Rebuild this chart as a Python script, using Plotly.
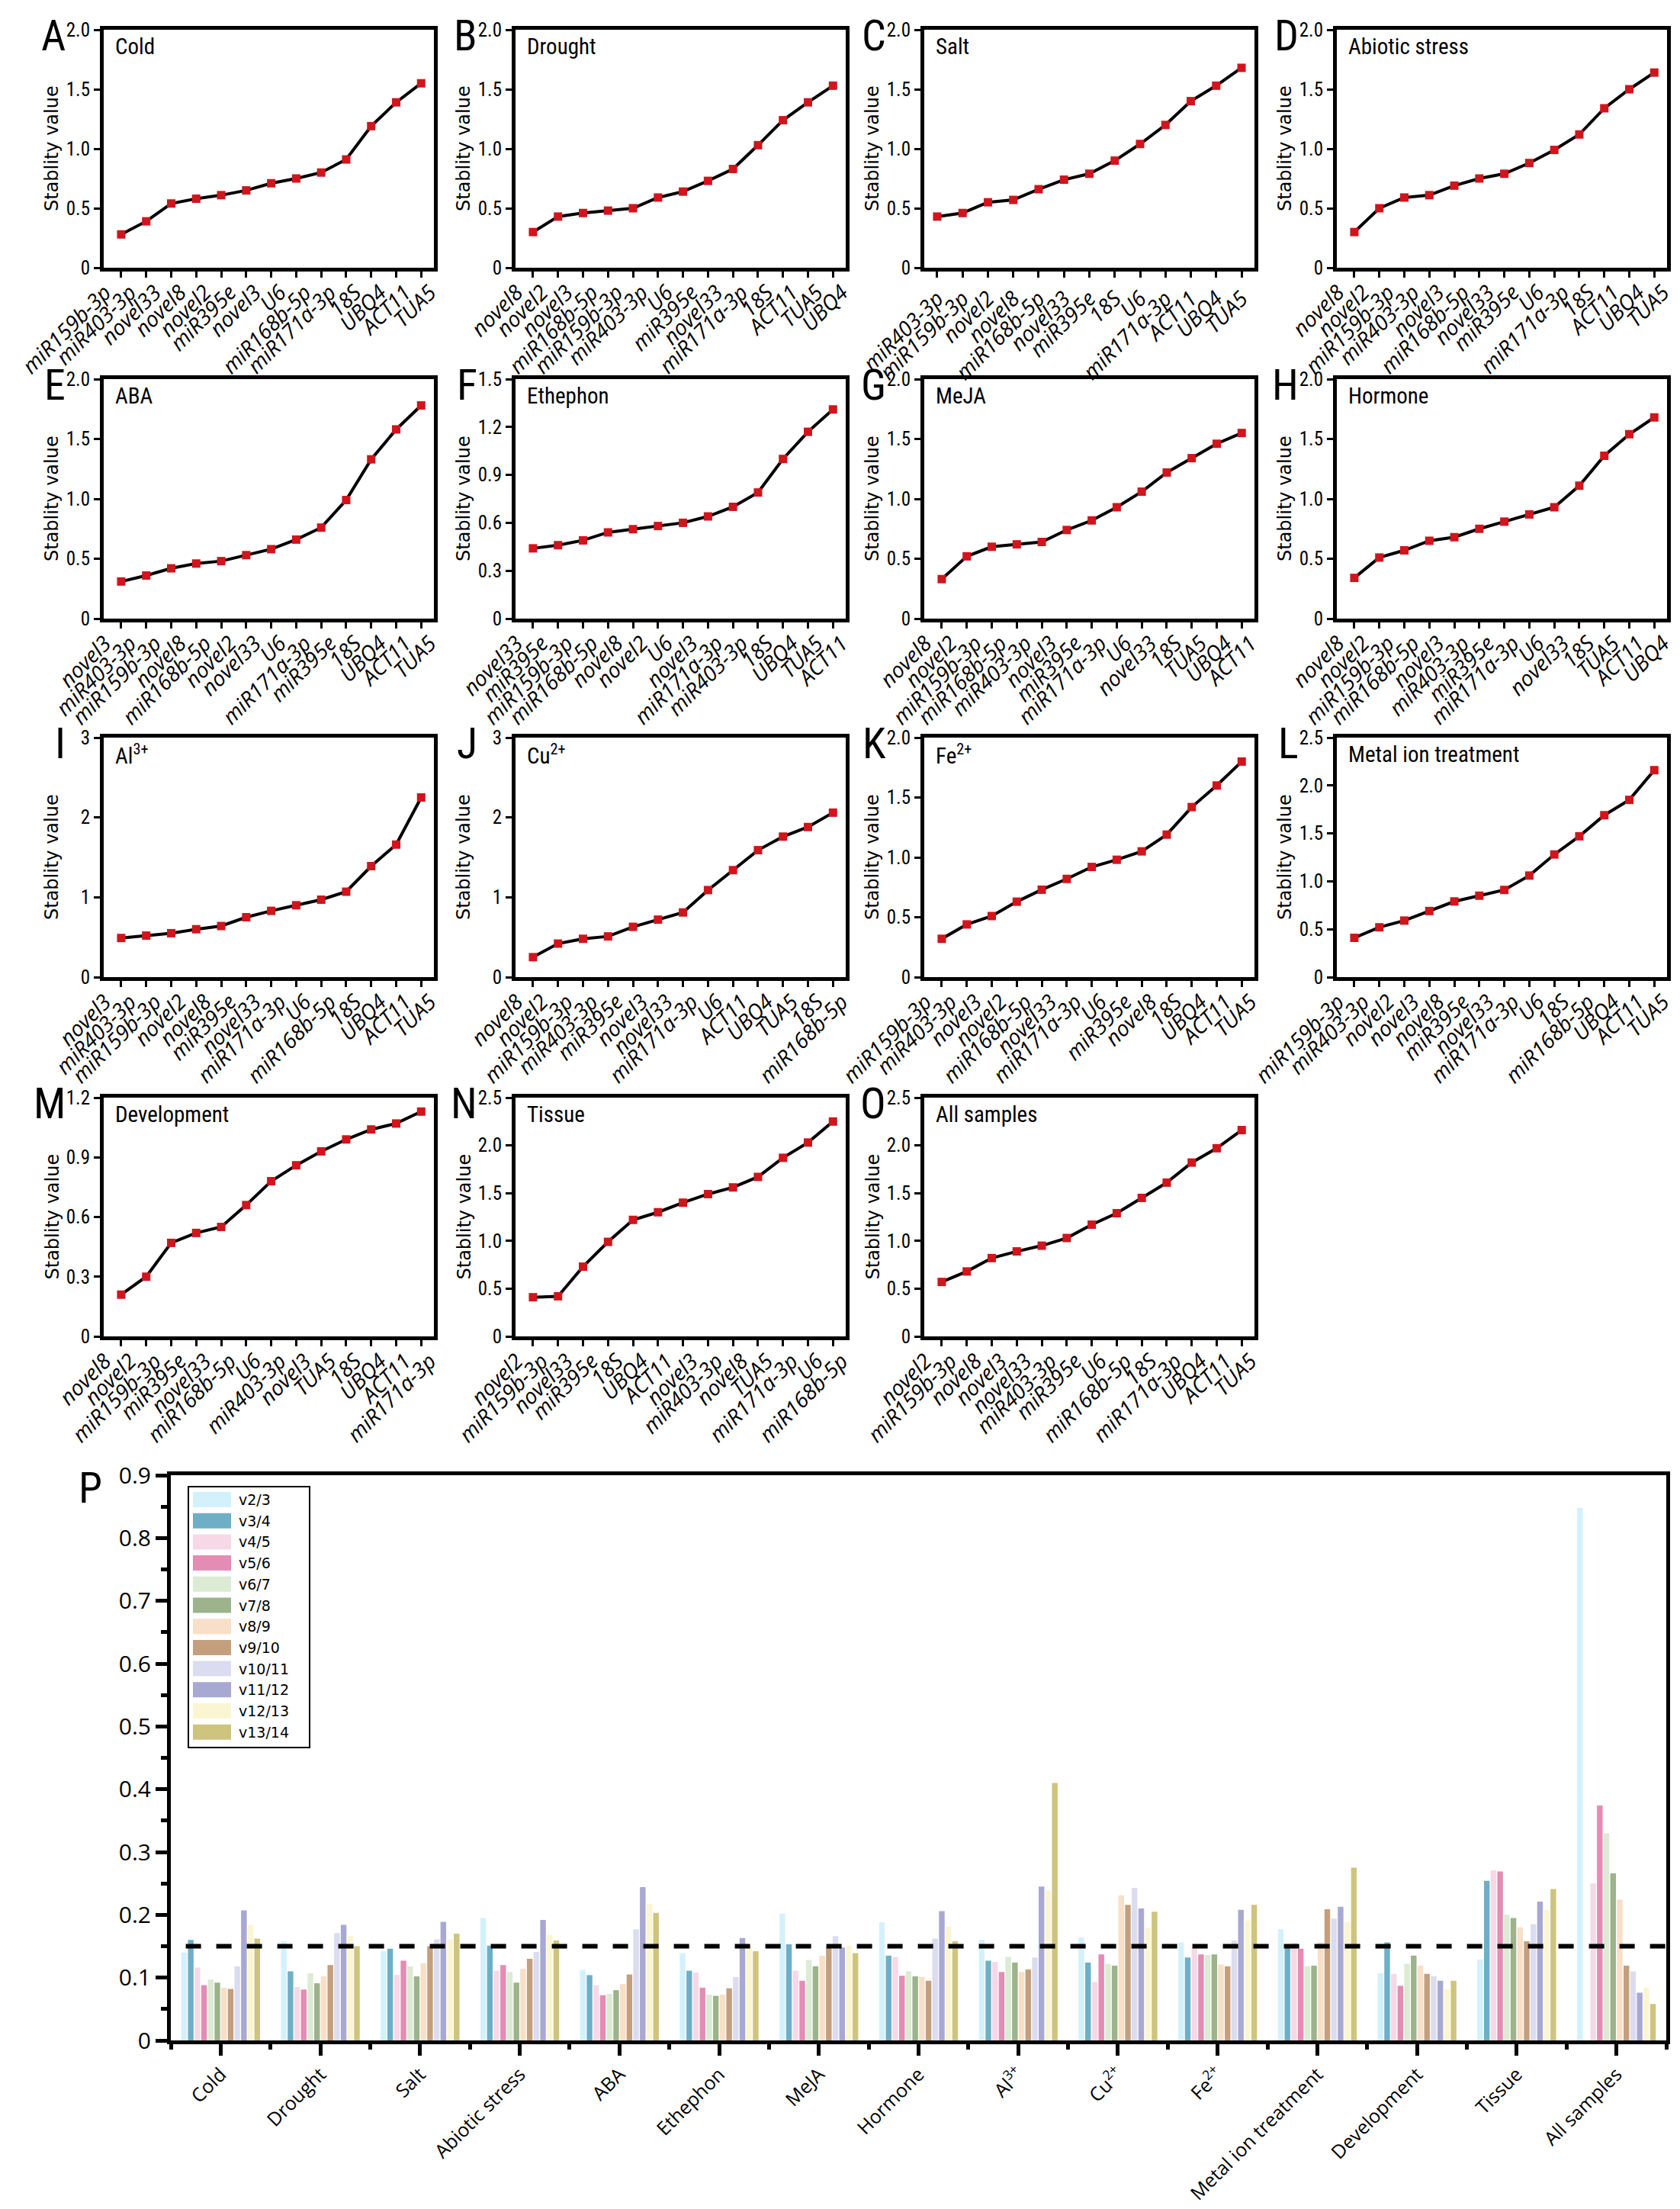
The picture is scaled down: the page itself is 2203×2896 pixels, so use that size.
import plotly.graph_objects as go

W, H = 2203, 2896

# ---------------- panels A-O : gene order (left to right) and stability values
cold_genes = ["miR159b-3p", "miR403-3p", "novel33", "novel8", "novel2", "miR395e", "novel3",
              "U6", "miR168b-5p", "miR171a-3p", "18S", "UBQ4", "ACT11", "TUA5"]
cold_vals = [0.28, 0.39, 0.54, 0.58, 0.61, 0.65, 0.71, 0.75, 0.80, 0.91, 1.19, 1.39, 1.55]

drought_genes = ["novel8", "novel2", "novel3", "miR168b-5p", "miR159b-3p", "miR403-3p", "U6",
                 "miR395e", "novel33", "miR171a-3p", "18S", "ACT11", "TUA5", "UBQ4"]
drought_vals = [0.30, 0.43, 0.46, 0.48, 0.50, 0.59, 0.64, 0.73, 0.83, 1.03, 1.24, 1.39, 1.53]

salt_genes = ["miR403-3p", "miR159b-3p", "novel2", "novel8", "miR168b-5p", "novel33", "miR395e",
              "18S", "U6", "miR171a-3p", "ACT11", "UBQ4", "TUA5"]
salt_vals = [0.43, 0.46, 0.55, 0.57, 0.66, 0.74, 0.79, 0.90, 1.04, 1.20, 1.40, 1.53, 1.68]

abiotic_genes = ["novel8", "novel2", "miR159b-3p", "miR403-3p", "novel3", "miR168b-5p", "novel33",
                 "miR395e", "U6", "miR171a-3p", "18S", "ACT11", "UBQ4", "TUA5"]
abiotic_vals = [0.30, 0.50, 0.59, 0.61, 0.69, 0.75, 0.79, 0.88, 0.99, 1.12, 1.34, 1.50, 1.64]

aba_genes = ["novel3", "miR403-3p", "miR159b-3p", "novel8", "miR168b-5p", "novel2", "novel33",
             "U6", "miR171a-3p", "miR395e", "18S", "UBQ4", "ACT11", "TUA5"]
aba_vals = [0.31, 0.36, 0.42, 0.46, 0.48, 0.53, 0.58, 0.66, 0.76, 0.99, 1.33, 1.58, 1.78]

ethephon_genes = ["novel33", "miR395e", "miR159b-3p", "miR168b-5p", "novel8", "novel2", "U6",
                  "novel3", "miR171a-3p", "miR403-3p", "18S", "UBQ4", "TUA5", "ACT11"]
ethephon_vals = [0.44, 0.46, 0.49, 0.54, 0.56, 0.58, 0.60, 0.64, 0.70, 0.79, 1.00, 1.17, 1.31]

meja_genes = ["novel8", "novel2", "miR159b-3p", "miR168b-5p", "miR403-3p", "novel3", "miR395e",
              "miR171a-3p", "U6", "novel33", "18S", "TUA5", "UBQ4", "ACT11"]
meja_vals = [0.33, 0.52, 0.60, 0.62, 0.64, 0.74, 0.82, 0.93, 1.06, 1.22, 1.34, 1.46, 1.55]

hormone_genes = ["novel8", "novel2", "miR159b-3p", "miR168b-5p", "novel3", "miR403-3p", "miR395e",
                 "miR171a-3p", "U6", "novel33", "18S", "TUA5", "ACT11", "UBQ4"]
hormone_vals = [0.34, 0.51, 0.57, 0.65, 0.68, 0.75, 0.81, 0.87, 0.93, 1.11, 1.36, 1.54, 1.68]

al_genes = ["novel3", "miR403-3p", "miR159b-3p", "novel2", "novel8", "miR395e", "novel33",
            "miR171a-3p", "U6", "miR168b-5p", "18S", "UBQ4", "ACT11", "TUA5"]
al_vals = [0.49, 0.52, 0.55, 0.60, 0.64, 0.75, 0.83, 0.90, 0.97, 1.07, 1.39, 1.66, 2.25]

cu_genes = ["novel8", "novel2", "miR159b-3p", "miR403-3p", "miR395e", "novel3", "novel33",
            "miR171a-3p", "U6", "ACT11", "UBQ4", "TUA5", "18S", "miR168b-5p"]
cu_vals = [0.25, 0.42, 0.48, 0.51, 0.63, 0.72, 0.81, 1.09, 1.34, 1.59, 1.76, 1.88, 2.06]

fe_genes = ["miR159b-3p", "miR403-3p", "novel3", "novel2", "miR168b-5p", "novel33", "miR171a-3p",
            "U6", "miR395e", "novel8", "18S", "UBQ4", "ACT11", "TUA5"]
fe_vals = [0.32, 0.44, 0.51, 0.63, 0.73, 0.82, 0.92, 0.98, 1.05, 1.19, 1.42, 1.60, 1.80]

metal_genes = ["miR159b-3p", "miR403-3p", "novel2", "novel3", "novel8", "miR395e", "novel33",
               "miR171a-3p", "U6", "18S", "miR168b-5p", "UBQ4", "ACT11", "TUA5"]
metal_vals = [0.41, 0.52, 0.59, 0.69, 0.79, 0.85, 0.91, 1.06, 1.28, 1.47, 1.69, 1.85, 2.16]

dev_genes = ["novel8", "novel2", "miR159b-3p", "miR395e", "novel33", "miR168b-5p", "U6",
             "miR403-3p", "novel3", "TUA5", "18S", "UBQ4", "ACT11", "miR171a-3p"]
dev_vals = [0.21, 0.30, 0.47, 0.52, 0.55, 0.66, 0.78, 0.86, 0.93, 0.99, 1.04, 1.07, 1.13]

tissue_genes = ["novel2", "miR159b-3p", "novel33", "miR395e", "18S", "UBQ4", "ACT11", "novel3",
                "miR403-3p", "novel8", "TUA5", "miR171a-3p", "U6", "miR168b-5p"]
tissue_vals = [0.41, 0.42, 0.73, 0.99, 1.22, 1.30, 1.40, 1.49, 1.56, 1.67, 1.87, 2.03, 2.25]

all_genes = ["novel2", "miR159b-3p", "novel8", "novel3", "novel33", "miR403-3p", "miR395e",
             "U6", "miR168b-5p", "18S", "miR171a-3p", "UBQ4", "ACT11", "TUA5"]
all_vals = [0.57, 0.68, 0.82, 0.89, 0.95, 1.03, 1.17, 1.29, 1.45, 1.61, 1.82, 1.97, 2.16]

# ---------------- panel P : pairwise variation
bar_groups = ["Cold", "Drought", "Salt", "Abiotic stress", "ABA", "Ethephon", "MeJA", "Hormone",
              "Al3+", "Cu2+", "Fe2+", "Metal ion treatment", "Development", "Tissue", "All samples"]
bar_ticktext = ["Cold", "Drought", "Salt", "Abiotic stress", "ABA", "Ethephon", "MeJA", "Hormone",
                "Al<sup>3+</sup>", "Cu<sup>2+</sup>", "Fe<sup>2+</sup>", "Metal ion treatment",
                "Development", "Tissue", "All samples"]
series_names = ["v2/3", "v3/4", "v4/5", "v5/6", "v6/7", "v7/8", "v8/9", "v9/10",
                "v10/11", "v11/12", "v12/13", "v13/14"]
series_colors = ["#d3f1fb", "#6eafc7", "#f7d8e7", "#e48cb4", "#dcebd3", "#9cb38b",
                 "#f8dfc7", "#c49f7d", "#dbdcef", "#a8a8d3", "#fbf5d1", "#cfc47d"]

v_cold = [0.140, 0.160, 0.116, 0.088, 0.097, 0.092, 0.084, 0.082, 0.118, 0.207, 0.184, 0.162]
v_drought = [0.158, 0.110, 0.085, 0.081, 0.107, 0.091, 0.102, 0.120, 0.171, 0.184, 0.166, 0.150]
v_salt = [0.142, 0.146, 0.104, 0.127, 0.118, 0.102, 0.123, 0.150, 0.161, 0.189, 0.161, 0.170]
v_abiotic = [0.195, 0.151, 0.111, 0.120, 0.109, 0.092, 0.114, 0.130, 0.141, 0.192, 0.168, 0.159]
v_aba = [0.112, 0.104, 0.088, 0.072, 0.074, 0.080, 0.090, 0.105, 0.177, 0.244, 0.217, 0.203]
v_ethephon = [0.139, 0.111, 0.108, 0.084, 0.073, 0.071, 0.073, 0.083, 0.101, 0.163, 0.151, 0.142]
v_meja = [0.202, 0.153, 0.111, 0.095, 0.128, 0.118, 0.135, 0.148, 0.166, 0.148, 0.151, 0.139]
v_hormone = [0.188, 0.135, 0.133, 0.103, 0.110, 0.102, 0.101, 0.095, 0.162, 0.206, 0.181, 0.158]
v_al = [0.160, 0.127, 0.125, 0.109, 0.133, 0.124, 0.109, 0.113, 0.132, 0.245, 0.239, 0.410]
v_cu = [0.164, 0.124, 0.093, 0.137, 0.122, 0.119, 0.231, 0.216, 0.243, 0.210, 0.179, 0.205]
v_fe = [0.156, 0.132, 0.148, 0.137, 0.136, 0.137, 0.121, 0.118, 0.159, 0.208, 0.191, 0.216]
v_metal = [0.177, 0.150, 0.155, 0.146, 0.118, 0.119, 0.156, 0.209, 0.194, 0.213, 0.189, 0.275]
v_dev = [0.107, 0.156, 0.106, 0.087, 0.122, 0.135, 0.119, 0.106, 0.102, 0.095, 0.082, 0.095]
v_tissue = [0.129, 0.254, 0.271, 0.269, 0.200, 0.195, 0.180, 0.158, 0.185, 0.221, 0.208, 0.241]
v_all = [0.848, 0.0, 0.250, 0.374, 0.330, 0.266, 0.224, 0.119, 0.110, 0.076, 0.084, 0.058]
threshold = 0.15

# ---------------- layout constants
NARROW = "Liberation Sans Narrow, Roboto Condensed, Liberation Sans, sans-serif"
LABF = "Open Sans, Noto Sans, sans-serif"
col_left = [128, 668, 1204, 1745]
row_top = [31, 489, 959, 1431]
row_bot = [343, 803, 1273, 1744]
panel_w = 433
MARK = "#d0151d"

panels = [  # letter, title, genes, values, ymax, ystep
    ("A", "Cold", cold_genes, cold_vals, 2.0, 0.5),
    ("B", "Drought", drought_genes, drought_vals, 2.0, 0.5),
    ("C", "Salt", salt_genes, salt_vals, 2.0, 0.5),
    ("D", "Abiotic stress", abiotic_genes, abiotic_vals, 2.0, 0.5),
    ("E", "ABA", aba_genes, aba_vals, 2.0, 0.5),
    ("F", "Ethephon", ethephon_genes, ethephon_vals, 1.5, 0.3),
    ("G", "MeJA", meja_genes, meja_vals, 2.0, 0.5),
    ("H", "Hormone", hormone_genes, hormone_vals, 2.0, 0.5),
    ("I", "Al<sup>3+</sup>", al_genes, al_vals, 3, 1),
    ("J", "Cu<sup>2+</sup>", cu_genes, cu_vals, 3, 1),
    ("K", "Fe<sup>2+</sup>", fe_genes, fe_vals, 2.0, 0.5),
    ("L", "Metal ion treatment", metal_genes, metal_vals, 2.5, 0.5),
    ("M", "Development", dev_genes, dev_vals, 1.2, 0.3),
    ("N", "Tissue", tissue_genes, tissue_vals, 2.5, 0.5),
    ("O", "All samples", all_genes, all_vals, 2.5, 0.5),
]


def px(x):
    return x / W


def py(y):
    return 1 - y / H


fig = go.Figure()
layout = {}
annotations = []

for i, (letter, title, genes, vals, ymax, ystep) in enumerate(panels):
    n = i + 1
    s = "" if n == 1 else str(n)
    r, c = divmod(i, 4)
    left, top, bot = col_left[c], row_top[r], row_bot[r]
    pos = list(range(1, len(vals) + 1))

    fig.add_trace(go.Scatter(
        x=pos, y=vals, mode="lines+markers",
        line=dict(color="black", width=4),
        marker=dict(symbol="square", size=11, color=MARK),
        xaxis="x" + s, yaxis="y" + s, showlegend=False,
        hovertemplate="%{y}<extra></extra>"))

    shifted = len(genes) > len(vals)
    if shifted:
        lab_pos = [k + 0.35 for k in range(len(genes))]
        xr = [0.3, len(vals) + 0.51]
    else:
        lab_pos = pos
        xr = [0.49, len(vals) + 0.51]

    xa = dict(domain=[px(left), px(left + panel_w)], anchor="y" + s, range=xr,
              tickmode="array", tickvals=lab_pos, ticktext=genes, tickangle=-45,
              tickfont=dict(family=LABF, size=28, style="italic", color="black"),
              showline=True, linewidth=5, linecolor="black", mirror=True,
              showgrid=False, zeroline=False, automargin=False)
    if shifted:
        xa["ticks"] = ""
        xa["minor"] = dict(tickmode="array", tickvals=pos, ticks="outside",
                           ticklen=8, tickwidth=3, tickcolor="black")
    else:
        xa.update(ticks="outside", ticklen=8, tickwidth=3, tickcolor="black")
    layout["xaxis" + s] = xa

    nt = int(round(ymax / ystep))
    yv = [round(k * ystep, 3) for k in range(nt + 1)]
    if float(ystep).is_integer():
        yt = [str(int(v)) for v in yv]
    else:
        yt = ["0" if v == 0 else f"{v:.1f}" for v in yv]
    layout["yaxis" + s] = dict(
        domain=[py(bot), py(top)], anchor="x" + s, range=[0, ymax],
        tickmode="array", tickvals=yv, ticktext=yt,
        tickfont=dict(family=NARROW, size=25, color="black"),
        ticks="outside", ticklen=8, tickwidth=3, tickcolor="black",
        showline=True, linewidth=5, linecolor="black", mirror=True,
        showgrid=False, zeroline=False, automargin=False)

    annotations.append(dict(x=px(left - 48), y=py(top + 8), xref="paper", yref="paper",
                            text=letter, showarrow=False, xanchor="right", yanchor="middle",
                            font=dict(family=NARROW, size=56, color="black")))
    annotations.append(dict(x=px(left + 13), y=py(top + 22), xref="paper", yref="paper",
                            text=title, showarrow=False, xanchor="left", yanchor="middle",
                            font=dict(family=NARROW, size=29, color="black")))
    annotations.append(dict(x=px(left - 68), y=py((top + bot) / 2), xref="paper", yref="paper",
                            text="Stablity value", showarrow=False, textangle=-90,
                            xanchor="center", yanchor="middle",
                            font=dict(family="DejaVu Sans, Verdana, sans-serif", size=24,
                                      color="black")))

# ---------------- panel P
groups = [v_cold, v_drought, v_salt, v_abiotic, v_aba, v_ethephon, v_meja, v_hormone,
          v_al, v_cu, v_fe, v_metal, v_dev, v_tissue, v_all]
gx = list(range(len(bar_groups)))
for j, name in enumerate(series_names):
    fig.add_trace(go.Bar(
        x=gx, y=[g[j] for g in groups], name=name,
        marker=dict(color=series_colors[j], line=dict(width=0)),
        xaxis="x16", yaxis="y16", showlegend=False,
        hovertemplate=name + ": %{y}<extra></extra>"))

P_left, P_right, P_top, P_bot = 216, 2177, 1926, 2667
layout["xaxis16"] = dict(
    domain=[px(P_left), px(P_right)], anchor="y16", range=[-0.5, len(bar_groups) - 0.5],
    tickmode="array", tickvals=gx, ticktext=bar_ticktext, tickangle=-45,
    tickfont=dict(family=LABF, size=25, color="black"),
    ticks="outside", ticklen=15, tickwidth=5, tickcolor="black",
    minor=dict(tick0=0.5, dtick=1, ticks="outside", ticklen=7, tickwidth=5, tickcolor="black"),
    showline=True, linewidth=5, linecolor="black", mirror=True,
    showgrid=False, zeroline=False, automargin=False)
layout["yaxis16"] = dict(
    domain=[py(P_bot), py(P_top)], anchor="x16", range=[0, 0.9],
    tickmode="linear", tick0=0, dtick=0.1,
    tickfont=dict(family=LABF, size=30, color="black"),
    ticks="outside", ticklen=15, tickwidth=5, tickcolor="black",
    minor=dict(dtick=0.05, ticks="outside", ticklen=8, tickwidth=5, tickcolor="black"),
    showline=True, linewidth=5, linecolor="black", mirror=True,
    showgrid=False, zeroline=False, automargin=False)

annotations.append(dict(x=px(P_left - 88), y=py(P_top + 17), xref="paper", yref="paper",
                        text="P", showarrow=False, xanchor="right", yanchor="middle",
                        font=dict(family=NARROW, size=56, color="black")))

shapes = [dict(type="line", xref="x16 domain", yref="y16", x0=0.01, x1=1, y0=threshold,
               y1=threshold, line=dict(color="black", width=6, dash="20px,20px"))]

# legend box drawn in paper space
lg_l, lg_t, lg_r, lg_b = 239, 1941, 398, 2283
shapes.append(dict(type="rect", xref="paper", yref="paper", x0=px(lg_l), x1=px(lg_r),
                   y0=py(lg_b), y1=py(lg_t), line=dict(color="black", width=2),
                   fillcolor="white", layer="above"))
for k, (name, col) in enumerate(zip(series_names, series_colors)):
    yt0 = 1948 + k * 27.7
    shapes.append(dict(type="rect", xref="paper", yref="paper", x0=px(245), x1=px(295),
                       y0=py(yt0 + 20), y1=py(yt0), line=dict(width=0), fillcolor=col,
                       layer="above"))
    annotations.append(dict(x=px(303), y=py(yt0 + 10), xref="paper", yref="paper", text=name,
                            showarrow=False, xanchor="left", yanchor="middle",
                            font=dict(family="DejaVu Sans, sans-serif", size=19, color="black")))

fig.update_layout(
    width=W, height=H, margin=dict(l=0, r=0, t=0, b=0),
    paper_bgcolor="white", plot_bgcolor="white",
    barmode="group", bargap=0.2, bargroupgap=0.15,
    annotations=annotations, shapes=shapes, showlegend=False,
    **layout)

fig.write_html("out.html")
